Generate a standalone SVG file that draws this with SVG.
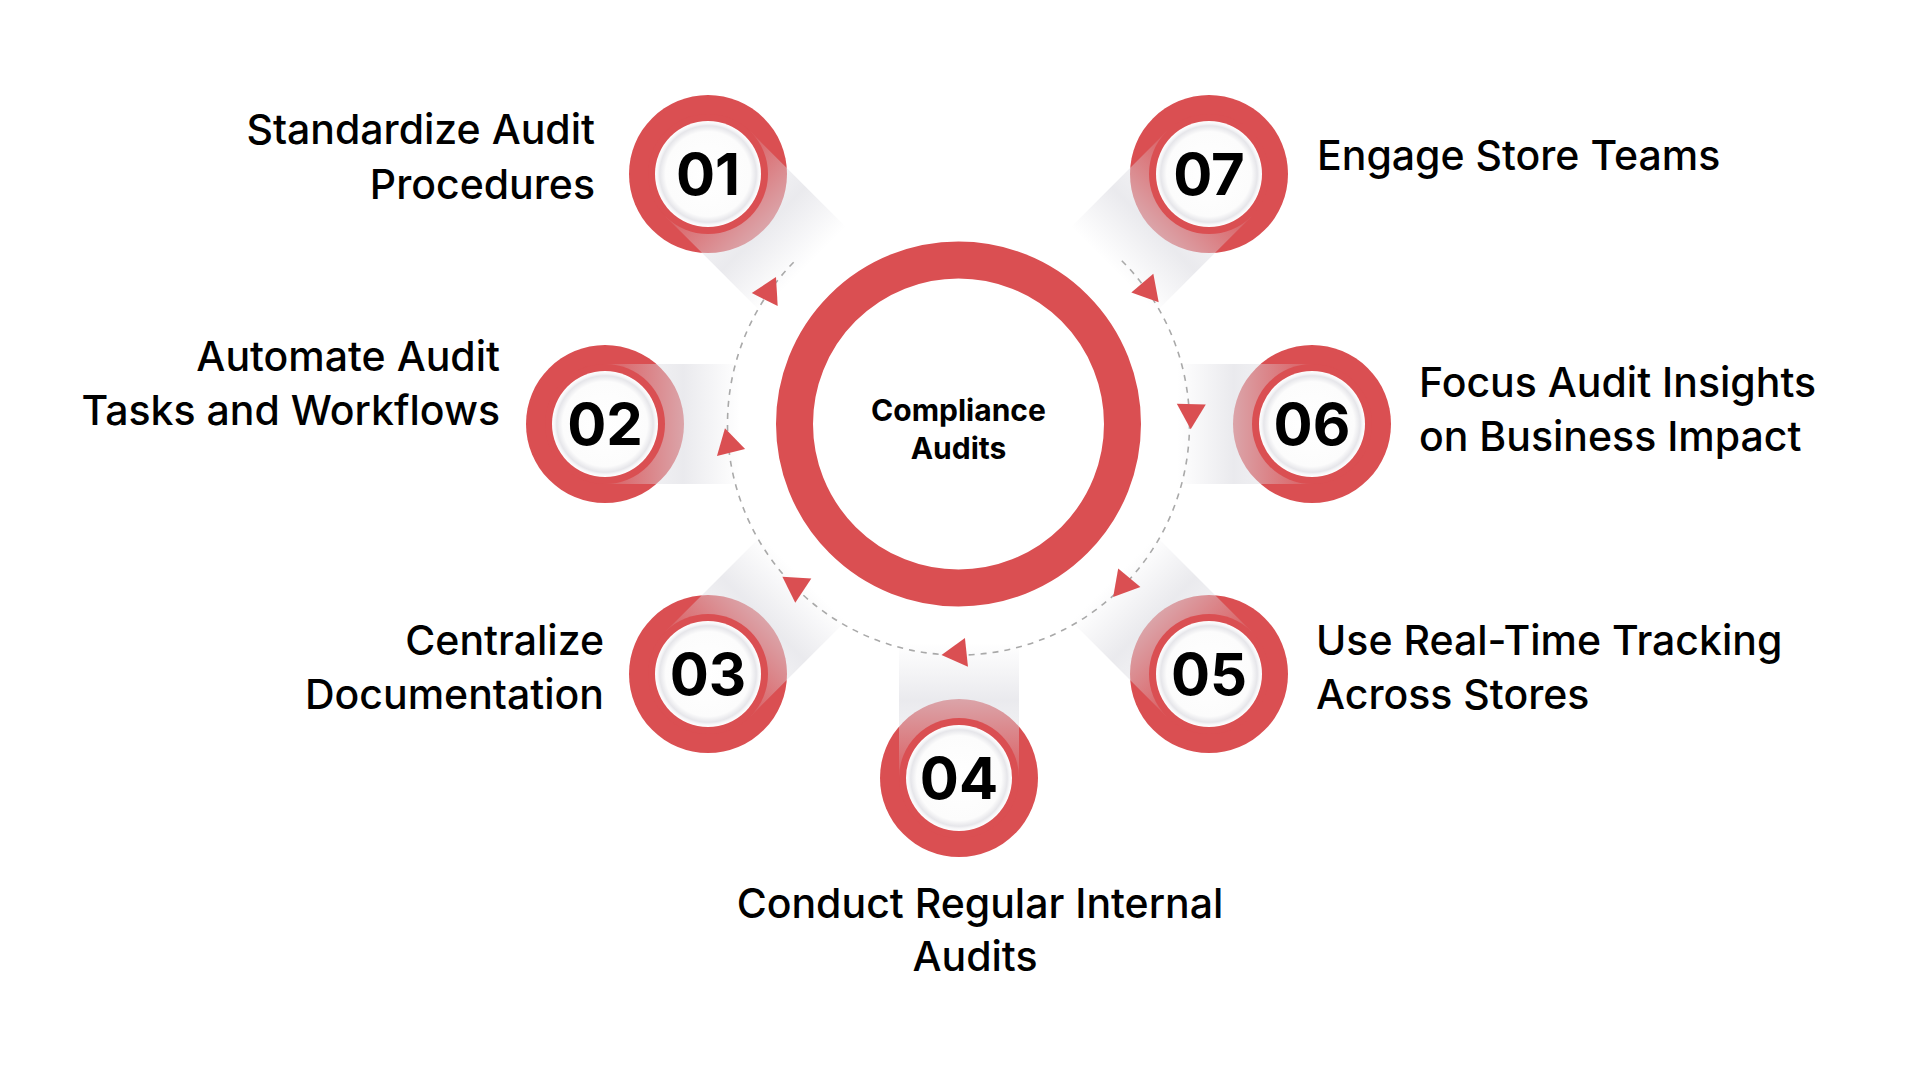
<svg xmlns="http://www.w3.org/2000/svg" width="1920" height="1080" viewBox="0 0 1920 1080">
  <defs>
    <linearGradient id="shade" x1="0" y1="0" x2="1" y2="0">
      <stop offset="0" stop-color="#dcdce2" stop-opacity="0.1"/>
      <stop offset="0.58" stop-color="#dcdce2" stop-opacity="0.6"/>
      <stop offset="1" stop-color="#dcdce2" stop-opacity="0"/>
    </linearGradient>
    <radialGradient id="disc" cx="0.5" cy="0.5" r="0.5">
      <stop offset="0" stop-color="#ffffff"/>
      <stop offset="0.8" stop-color="#fcfcfc"/>
      <stop offset="0.91" stop-color="#e6e6ea"/>
      <stop offset="0.95" stop-color="#f5f5f7"/>
      <stop offset="1" stop-color="#ffffff"/>
    </radialGradient>
    <path id="tri" d="M16.7 0 L-8.4 14.5 L-8.4 -14.5 Z"/>
    <style>
      .red { fill: #da4f52; }
      .shadow { fill: url(#shade); }
      .disc { fill: url(#disc); }
      .num { font-family: Inter, "DejaVu Sans", sans-serif; font-weight: 700; font-size: 58px; fill: #000; text-anchor: middle; }
      .lbl { font-family: Inter, "DejaVu Sans", sans-serif; font-weight: 500; font-size: 41px; fill: #000; }
      .end { text-anchor: end; }
      .mid { text-anchor: middle; }
      .center { font-family: Inter, "DejaVu Sans", sans-serif; font-weight: 700; font-size: 30px; fill: #000; text-anchor: middle; }
      .dash { fill: none; stroke: #a9a9a9; stroke-width: 1.6; stroke-dasharray: 6 6; }
      .arrow { fill: #da4f52; }
    </style>
  </defs>
  <rect width="1920" height="1080" fill="#ffffff"/>

  <g id="hub">
    <circle cx="958.5" cy="424" r="164" fill="none" stroke="#da4f52" stroke-width="37"/>
    <text class="center" x="958.5" y="421">Compliance</text>
    <text class="center" x="958.5" y="459">Audits</text>
  </g>

  <g id="node-01">
    <circle class="red" cx="708" cy="174" r="79"/>
    <rect class="shadow" x="0" y="-60" width="135" height="120" transform="translate(708 174) rotate(45)"/>
    <circle class="red" cx="708" cy="174" r="60"/>
    <circle class="disc" cx="708" cy="174" r="53"/>
    <text class="num" x="708" y="195">01</text>
    <text class="lbl end" x="595" y="143.5">Standardize Audit</text>
    <text class="lbl end" x="595" y="198.5">Procedures</text>
  </g>

  <g id="node-02">
    <circle class="red" cx="605" cy="424" r="79"/>
    <rect class="shadow" x="0" y="-60" width="135" height="120" transform="translate(605 424)"/>
    <circle class="red" cx="605" cy="424" r="60"/>
    <circle class="disc" cx="605" cy="424" r="53"/>
    <text class="num" x="605" y="445">02</text>
    <text class="lbl end" x="500" y="371">Automate Audit</text>
    <text class="lbl end" x="500" y="425">Tasks and Workflows</text>
  </g>

  <g id="node-03">
    <circle class="red" cx="708" cy="674" r="79"/>
    <rect class="shadow" x="0" y="-60" width="135" height="120" transform="translate(708 674) rotate(-45)"/>
    <circle class="red" cx="708" cy="674" r="60"/>
    <circle class="disc" cx="708" cy="674" r="53"/>
    <text class="num" x="708" y="695">03</text>
    <text class="lbl end" x="604" y="655">Centralize</text>
    <text class="lbl end" x="604" y="709">Documentation</text>
  </g>

  <g id="node-04">
    <circle class="red" cx="959" cy="778" r="79"/>
    <rect class="shadow" x="0" y="-60" width="135" height="120" transform="translate(959 778) rotate(-90)"/>
    <circle class="red" cx="959" cy="778" r="60"/>
    <circle class="disc" cx="959" cy="778" r="53"/>
    <text class="num" x="959" y="799">04</text>
    <text class="lbl mid" x="980" y="918">Conduct Regular Internal</text>
    <text class="lbl mid" x="975" y="971">Audits</text>
  </g>

  <g id="node-05">
    <circle class="red" cx="1209" cy="674" r="79"/>
    <rect class="shadow" x="0" y="-60" width="135" height="120" transform="translate(1209 674) rotate(-135)"/>
    <circle class="red" cx="1209" cy="674" r="60"/>
    <circle class="disc" cx="1209" cy="674" r="53"/>
    <text class="num" x="1209" y="695">05</text>
    <text class="lbl" x="1316" y="655">Use Real-Time Tracking</text>
    <text class="lbl" x="1316" y="709">Across Stores</text>
  </g>

  <g id="node-06">
    <circle class="red" cx="1312" cy="424" r="79"/>
    <rect class="shadow" x="0" y="-60" width="135" height="120" transform="translate(1312 424) rotate(180)"/>
    <circle class="red" cx="1312" cy="424" r="60"/>
    <circle class="disc" cx="1312" cy="424" r="53"/>
    <text class="num" x="1312" y="445">06</text>
    <text class="lbl" x="1419" y="397">Focus Audit Insights</text>
    <text class="lbl" x="1419" y="451">on Business Impact</text>
  </g>

  <g id="node-07">
    <circle class="red" cx="1209" cy="174" r="79"/>
    <rect class="shadow" x="0" y="-60" width="135" height="120" transform="translate(1209 174) rotate(135)"/>
    <circle class="red" cx="1209" cy="174" r="60"/>
    <circle class="disc" cx="1209" cy="174" r="53"/>
    <text class="num" x="1209" y="195">07</text>
    <text class="lbl" x="1317" y="170">Engage Store Teams</text>
  </g>

  <g id="connectors">
    <path class="dash" d="M1121.8 260.7 A231 231 0 1 1 795.2 260.7"/>
    <use href="#tri" class="arrow" transform="translate(768.5 292) rotate(-63.4)"/>
    <use href="#tri" class="arrow" transform="translate(729 444.4) rotate(-104)"/>
    <use href="#tri" class="arrow" transform="translate(796.3 586) rotate(-146.4)"/>
    <use href="#tri" class="arrow" transform="translate(958.1 653.3) rotate(174)"/>
    <use href="#tri" class="arrow" transform="translate(1123.9 584.2) rotate(130)"/>
    <use href="#tri" class="arrow" transform="translate(1191.1 412.6) rotate(91.4)"/>
    <use href="#tri" class="arrow" transform="translate(1147.8 289.5) rotate(49.3)"/>
  </g>
</svg>
